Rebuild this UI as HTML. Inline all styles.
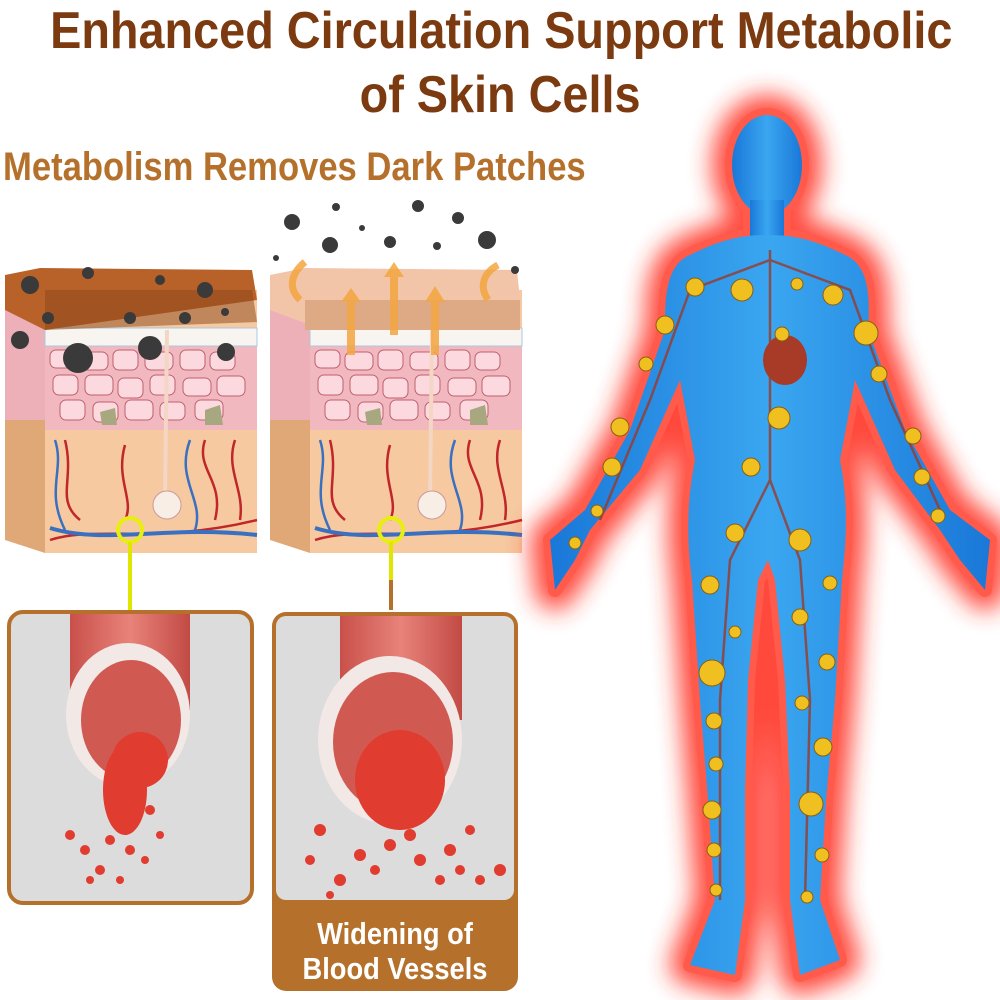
<!DOCTYPE html>
<html><head><style>
body{margin:0;width:1000px;height:1000px;background:#fff;overflow:hidden;position:relative;font-family:"Liberation Sans",sans-serif}
.t{position:absolute;left:0;width:1000px;text-align:center;font-weight:bold;color:#7b3a10;font-size:52px;white-space:nowrap}
.t span{display:inline-block;transform:scaleX(0.9);transform-origin:center}
</style></head><body>
<div class="t" style="top:1px"><span>Enhanced Circulation Support Metabolic</span></div>
<div class="t" style="top:65px"><span>of Skin Cells</span></div>
<div style="position:absolute;left:3px;top:145px;font-weight:bold;color:#b5712c;font-size:40px;white-space:nowrap;transform:scaleX(0.865);transform-origin:left">Metabolism Removes Dark Patches</div>
<svg width="1000" height="1000" style="position:absolute;left:0;top:0">
<defs>
<filter id="gl" x="-30%" y="-30%" width="160%" height="160%"><feGaussianBlur stdDeviation="12"/></filter>
<linearGradient id="tube" x1="0" x2="1"><stop offset="0" stop-color="#c9504a"/><stop offset=".5" stop-color="#e8837a"/><stop offset="1" stop-color="#c24a44"/></linearGradient>
<linearGradient id="bl" x1="0" x2="1"><stop offset="0" stop-color="#1a78d8"/><stop offset=".5" stop-color="#3aa6f0"/><stop offset="1" stop-color="#1a78d8"/></linearGradient>
<g id="skin">
<polygon points="0,275 40,290 40,553 0,540" fill="#e0a877"/>
<rect x="40" y="290" width="212" height="263" fill="#f6c9a0"/>
<rect x="40" y="345" width="212" height="85" fill="#f2b8c0"/>
<rect x="0" y="310" width="40" height="110" fill="#eeb0b8"/>
<g fill="#fbd9de" stroke="#c06070" stroke-width="1">
<rect x="45" y="350" width="25" height="18" rx="6"/><rect x="75" y="352" width="28" height="18" rx="6"/><rect x="108" y="350" width="25" height="20" rx="6"/><rect x="140" y="352" width="28" height="18" rx="6"/><rect x="175" y="350" width="25" height="20" rx="6"/><rect x="205" y="352" width="25" height="18" rx="6"/>
<rect x="48" y="375" width="25" height="20" rx="6"/><rect x="80" y="375" width="28" height="20" rx="6"/><rect x="113" y="378" width="25" height="20" rx="6"/><rect x="145" y="375" width="25" height="20" rx="6"/><rect x="178" y="378" width="28" height="18" rx="6"/><rect x="212" y="376" width="28" height="20" rx="6"/>
<rect x="55" y="400" width="25" height="20" rx="6"/><rect x="88" y="402" width="25" height="20" rx="6"/><rect x="120" y="400" width="28" height="20" rx="6"/><rect x="155" y="402" width="25" height="18" rx="6"/><rect x="190" y="400" width="28" height="20" rx="6"/>
</g>
<rect x="40" y="328" width="212" height="18" fill="#f8f4f0" stroke="#a8c8e0"/>
<g fill="none" stroke-width="2.5"><path d="M45,540 C90,525 150,545 252,520" stroke="#c0262a"/><path d="M45,528 C100,545 160,525 252,535" stroke="#3a70c0" stroke-width="4"/><path d="M60,440 C70,480 50,500 75,520 M120,445 C110,480 130,500 120,520 M200,440 C190,470 220,480 210,520 M230,440 C220,470 240,490 235,520" stroke="#c0262a"/><path d="M50,440 C60,470 40,490 60,530 M185,440 C170,480 200,500 190,530" stroke="#3a70c0"/></g>
<line x1="162" y1="330" x2="160" y2="500" stroke="#f3d6c4" stroke-width="4"/>
<circle cx="162" cy="505" r="14" fill="#f8eee6" stroke="#c99"/>
<polygon points="95,412 110,408 112,425 97,425" fill="#a8a880"/><polygon points="200,410 215,405 218,425 200,425" fill="#a8a880"/>
</g>
<g id="body">
<ellipse cx="767" cy="165" rx="35" ry="50"/>
<rect x="750" y="200" width="34" height="40"/>
<path d="M690,255 C720,240 740,235 767,235 C795,235 815,240 845,255 C870,265 870,300 868,330 L905,430 L950,510 L990,540 L985,590 L960,560 L940,530 L895,470 L855,380 L840,460 C850,510 845,550 842,580 L835,700 L826,800 L820,900 L840,960 L800,975 L790,900 L790,790 L785,680 L775,580 L768,560 L758,580 L748,680 L745,790 L745,900 L735,975 L690,965 L715,900 L708,800 L700,700 L692,580 C688,550 685,510 695,460 L680,380 L640,470 L590,530 L575,560 L555,590 L550,540 L585,510 L630,430 L665,330 C665,300 665,265 690,255 Z"/>
</g>
</defs>
<use href="#skin" x="5"/>
<polygon points="5,275 40,268 252,270 257,300 45,330 5,310" fill="#b8622a"/>
<polygon points="45,290 252,290 257,322 45,330" fill="#8a4418" opacity=".5"/>
<g fill="#3a3a3a"><circle cx="30" cy="285" r="9"/><circle cx="88" cy="273" r="6"/><circle cx="205" cy="290" r="8"/><circle cx="48" cy="318" r="6"/><circle cx="130" cy="318" r="6"/><circle cx="185" cy="318" r="6"/><circle cx="20" cy="340" r="9"/><circle cx="78" cy="358" r="15"/><circle cx="150" cy="348" r="12"/><circle cx="226" cy="352" r="9"/><circle cx="160" cy="280" r="5"/><circle cx="225" cy="312" r="4"/></g>
<use href="#skin" x="270"/>
<polygon points="270,275 305,268 517,270 520,300 310,325 270,310" fill="#f2c4a8"/>
<rect x="305" y="300" width="215" height="30" fill="#deaa86"/>
<g fill="#f4a640" opacity=".85"><rect x="347" y="300" width="8" height="55"/><polygon points="341,302 351,288 361,302"/><rect x="390" y="275" width="8" height="60"/><polygon points="384,277 394,262 404,277"/><rect x="431" y="300" width="8" height="55"/><polygon points="425,302 435,286 445,302"/><path d="M300,300 C285,285 295,270 305,262" stroke="#f4a640" stroke-width="7" fill="none"/><path d="M488,300 C478,285 485,272 498,265" stroke="#f4a640" stroke-width="7" fill="none"/></g>
<g fill="#3a3a3a"><circle cx="292" cy="222" r="8"/><circle cx="336" cy="207" r="4"/><circle cx="330" cy="245" r="8"/><circle cx="390" cy="242" r="6"/><circle cx="418" cy="206" r="6"/><circle cx="458" cy="218" r="6"/><circle cx="487" cy="240" r="9"/><circle cx="437" cy="246" r="4"/><circle cx="362" cy="228" r="3"/><circle cx="515" cy="270" r="4"/><circle cx="276" cy="258" r="3"/></g>
<g stroke="#e8ee10" stroke-width="4" fill="none"><circle cx="130" cy="530" r="12"/><circle cx="391" cy="530" r="12"/></g>
<line x1="130" y1="542" x2="130" y2="610" stroke="#e0e600" stroke-width="4"/>
<line x1="391" y1="542" x2="391" y2="580" stroke="#e0e600" stroke-width="4"/>
<line x1="391" y1="580" x2="391" y2="610" stroke="#b5712c" stroke-width="4"/>
<rect x="9" y="612" width="243" height="291" rx="14" fill="#dcdcdc" stroke="#b5712c" stroke-width="4"/>
<path d="M70,614 L70,710 L190,710 L190,614 Z" fill="url(#tube)"/>
<ellipse cx="128" cy="715" rx="62" ry="72" fill="#f2e8e6"/>
<ellipse cx="131" cy="720" rx="50" ry="60" fill="#d05a52"/>
<g fill="#e03c30"><ellipse cx="125" cy="790" rx="22" ry="45"/><ellipse cx="140" cy="760" rx="28" ry="28"/><circle cx="70" cy="835" r="5"/><circle cx="85" cy="850" r="5"/><circle cx="100" cy="870" r="5"/><circle cx="130" cy="850" r="5"/><circle cx="150" cy="810" r="5"/><circle cx="90" cy="880" r="4"/><circle cx="160" cy="835" r="4"/><circle cx="120" cy="880" r="4"/><circle cx="145" cy="860" r="4"/><circle cx="110" cy="840" r="5"/></g>
<rect x="272" y="612" width="246" height="379" rx="14" fill="#b5712c"/>
<rect x="276" y="616" width="238" height="284" rx="10" fill="#dcdcdc"/>
<path d="M340,616 L340,720 L462,720 L462,616 Z" fill="url(#tube)"/>
<ellipse cx="390" cy="740" rx="72" ry="84" fill="#f2e8e6"/>
<ellipse cx="393" cy="742" rx="60" ry="70" fill="#d05a52"/>
<g fill="#e03c30"><ellipse cx="400" cy="780" rx="45" ry="50"/><circle cx="320" cy="830" r="6"/><circle cx="310" cy="860" r="5"/><circle cx="340" cy="880" r="6"/><circle cx="360" cy="855" r="6"/><circle cx="420" cy="860" r="6"/><circle cx="450" cy="850" r="6"/><circle cx="470" cy="830" r="5"/><circle cx="500" cy="870" r="6"/><circle cx="480" cy="880" r="5"/><circle cx="440" cy="880" r="5"/><circle cx="330" cy="895" r="4"/><circle cx="390" cy="845" r="6"/><circle cx="410" cy="835" r="6"/><circle cx="460" cy="870" r="5"/><circle cx="375" cy="870" r="5"/></g>
<text x="395" y="944" text-anchor="middle" font-weight="bold" font-size="31" fill="#fff" transform="translate(395 0) scale(0.88 1) translate(-395 0)">Widening of</text>
<text x="395" y="979" text-anchor="middle" font-weight="bold" font-size="31" fill="#fff" transform="translate(395 0) scale(0.88 1) translate(-395 0)">Blood Vessels</text>
<use href="#body" fill="#ff2a1a" stroke="#ff2a1a" stroke-width="40" stroke-linejoin="round" filter="url(#gl)" opacity=".85"/>
<use href="#body" fill="#ff5040" stroke="#ff5a4a" stroke-width="14" stroke-linejoin="round"/>
<use href="#body" fill="url(#bl)"/>
<g stroke="#9a3a2a" stroke-width="2.5" fill="none" opacity=".8"><path d="M770,250 L770,480 L730,560 L720,700 L720,900 M770,480 L800,560 L810,700 L805,900 M770,260 L690,290 L650,400 L600,520 M770,260 L850,290 L890,400 L940,510"/></g>
<ellipse cx="785" cy="360" rx="22" ry="25" fill="#a83a28"/>
<g fill="#f0c020" stroke="#8a6010" stroke-width="1">
<circle cx="695" cy="287" r="9"/><circle cx="742" cy="290" r="11"/><circle cx="797" cy="284" r="6"/><circle cx="833" cy="295" r="10"/><circle cx="866" cy="333" r="12"/><circle cx="665" cy="325" r="9"/><circle cx="782" cy="334" r="7"/><circle cx="779" cy="418" r="11"/><circle cx="751" cy="467" r="9"/><circle cx="620" cy="427" r="9"/><circle cx="913" cy="436" r="8"/><circle cx="879" cy="374" r="8"/><circle cx="646" cy="364" r="7"/><circle cx="612" cy="467" r="9"/><circle cx="922" cy="477" r="8"/><circle cx="597" cy="511" r="6"/><circle cx="938" cy="516" r="7"/><circle cx="575" cy="543" r="6"/><circle cx="735" cy="533" r="9"/><circle cx="800" cy="540" r="11"/><circle cx="710" cy="585" r="9"/><circle cx="830" cy="583" r="7"/><circle cx="800" cy="617" r="8"/><circle cx="735" cy="632" r="6"/><circle cx="827" cy="662" r="8"/><circle cx="712" cy="673" r="13"/><circle cx="802" cy="703" r="7"/><circle cx="714" cy="721" r="8"/><circle cx="823" cy="747" r="9"/><circle cx="716" cy="764" r="7"/><circle cx="811" cy="804" r="12"/><circle cx="712" cy="810" r="9"/><circle cx="822" cy="855" r="7"/><circle cx="714" cy="850" r="7"/><circle cx="807" cy="897" r="6"/><circle cx="716" cy="890" r="6"/>
</g>
</svg>
</body></html>
